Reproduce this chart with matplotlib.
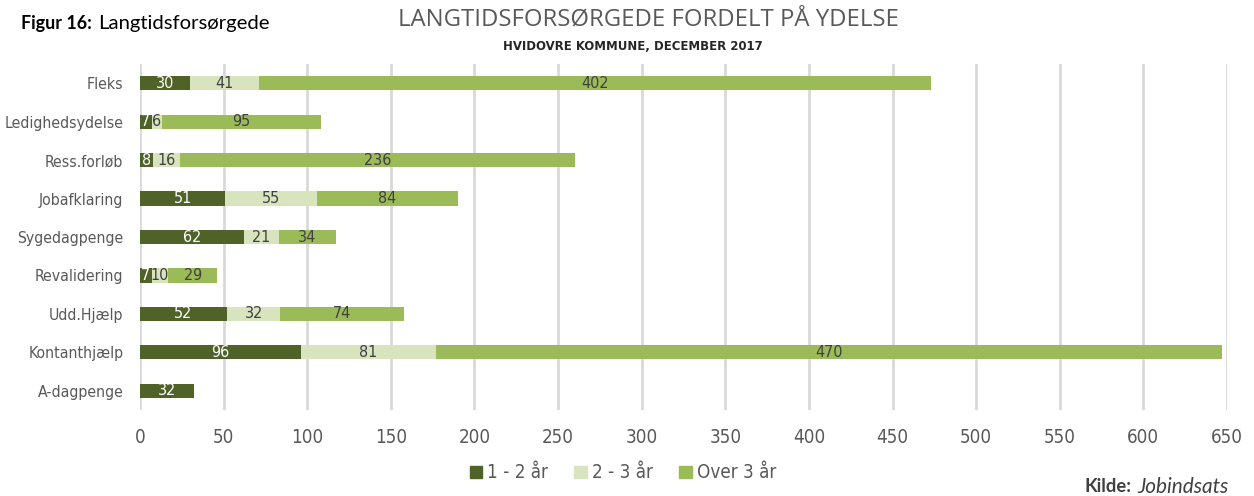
import matplotlib
matplotlib.use("Agg")
import matplotlib.pyplot as plt
from matplotlib.patches import Patch

NF = dict(family="DejaVu Sans", stretch="condensed")

categories = ["Fleks", "Ledighedsydelse", "Ress.forløb", "Jobafklaring", "Sygedagpenge",
              "Revalidering", "Udd.Hjælp", "Kontanthjælp", "A-dagpenge"]
series_names = ["1 - 2 år", "2 - 3 år", "Over 3 år"]
s1 = [30, 7, 8, 51, 62, 7, 52, 96, 32]
s2 = [41, 6, 16, 55, 21, 10, 32, 81, 0]
s3 = [402, 95, 236, 84, 34, 29, 74, 470, 0]
xticks = list(range(0, 651, 50))

colors = ["#4F6228", "#D7E4BD", "#9BBB59"]
label_colors = ["white", "#404040", "#404040"]

W, H = 1254, 496
fig = plt.figure(figsize=(W/100, H/100), dpi=100)
ax = fig.add_axes([140/W, 1-410/H, (1227-140)/W, (410-64)/H])

y = list(range(len(categories)))
left = [0]*len(categories)
for vals, c, lc, nm in zip([s1, s2, s3], colors, label_colors, series_names):
    bars = ax.barh(y, vals, left=left, height=0.37, color=c, label=nm, zorder=3)
    for b, v in zip(bars, vals):
        if v > 0:
            ax.text(b.get_x() + b.get_width()/2, b.get_y() + b.get_height()/2, str(v),
                    ha="center", va="center", color=lc, fontsize=11.5, zorder=4, **NF)
    left = [l + v for l, v in zip(left, vals)]

ax.set_xlim(0, 650)
ax.set_ylim(len(categories) - 0.5, -0.5)
ax.set_xticks(xticks)
ax.set_yticks(y)
ax.set_yticklabels(categories)
for lab in ax.get_xticklabels():
    lab.set_family(NF["family"]); lab.set_stretch(NF["stretch"])
    lab.set_color("#595959"); lab.set_fontsize(13.5)
for lab in ax.get_yticklabels():
    lab.set_family(NF["family"]); lab.set_stretch(NF["stretch"])
    lab.set_color("#595959"); lab.set_fontsize(11.3)
ax.tick_params(axis="both", length=0)
ax.tick_params(axis="x", pad=13)
ax.tick_params(axis="y", pad=12)
ax.grid(axis="x", color="#D9D9D9", linewidth=2, zorder=0)
for s in ax.spines.values():
    s.set_visible(False)

renderer = fig.canvas.get_renderer()

def fit(x0, x1, yc, s, **kw):
    t = fig.text(x0/W, 1-yc/H, s, ha="left", va="center", **kw)
    fs = t.get_fontsize()
    for _ in range(3):
        w = t.get_window_extent(renderer).width
        fs = fs * (x1 - x0) / w
        t.set_fontsize(fs)
    return t

fit(21, 92, 24, "Figur 16:", fontsize=12, fontweight="bold", family="Lato", color="black")
fit(98, 270, 24, "Langtidsforsørgede", fontsize=12, family="Lato", color="black")
fit(398, 893, 20, "LANGTIDSFORSØRGEDE FORDELT PÅ YDELSE", fontsize=16,
    color="#595959", family="Open Sans", fontweight="normal")
fit(503, 763, 47, "HVIDOVRE KOMMUNE, DECEMBER 2017", fontsize=9,
    color="#262626", fontweight="bold", **NF)
fit(1085, 1132, 487, "Kilde:", fontsize=11, fontweight="bold", family="Lato", color="#404040")
fit(1137, 1228, 487, "Jobindsats", fontsize=11, style="italic", family="Lato", color="#404040")

handles = [Patch(color=c) for c in colors]
leg = fig.legend(handles, series_names, loc="center", bbox_to_anchor=(623/W, 1-473/H),
                 ncol=3, frameon=False, handlelength=0.65, handleheight=0.65,
                 handletextpad=0.3, columnspacing=1.4,
                 prop={"family": NF["family"], "stretch": NF["stretch"], "size": 13.5})
for t in leg.get_texts():
    t.set_color("#595959")

fig.savefig("out.png", dpi=100)
